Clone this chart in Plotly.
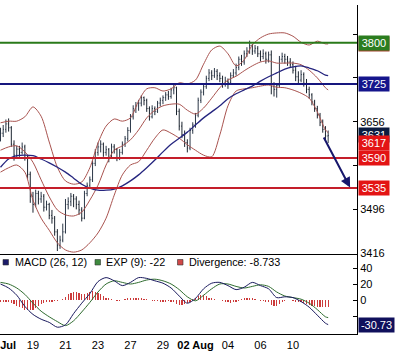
import plotly.graph_objects as go

# ---------------- data (4-hour bars, 15 Jul -> 12 Aug) ----------------
bars_per_day = 6
opens = [3628,3635,3642,3652,3645,3615,3595,3606,3600,3610,3590,3560,3520,3505,3525,3515,3520,3500,3505,3485,
         3480,3455,3430,3440,3455,3505,3510,3520,3515,3505,3495,3480,3525,3540,3550,3580,3600,3610,3615,3600,
         3605,3590,3610,3605,3590,3600,3615,3625,3640,3665,3680,3685,3690,3700,3695,3680,3665,3680,3675,3690,
         3695,3700,3705,3702,3714,3718,3675,3648,3632,3618,3608,3640,3650,3668,3695,3710,3720,3735,3745,3740,
         3748,3740,3735,3725,3730,3728,3740,3745,3755,3770,3765,3780,3785,3795,3785,3790,3780,3775,3780,3770,
         3778,3720,3715,3722,3770,3775,3770,3765,3760,3750,3738,3732,3742,3726,3715,3705,3692,3680,3668,3655,
         3642,3630]
highs = [3645,3650,3660,3662,3648,3622,3612,3612,3618,3614,3595,3565,3528,3532,3530,3528,3524,3512,3508,3495,
         3484,3460,3448,3470,3515,3518,3526,3524,3520,3512,3500,3530,3545,3556,3585,3606,3618,3622,3618,3612,
         3608,3616,3615,3608,3606,3620,3630,3646,3670,3686,3692,3696,3704,3702,3698,3684,3686,3684,3694,3700,
         3704,3710,3712,3718,3724,3720,3680,3656,3640,3624,3645,3655,3672,3700,3715,3726,3740,3752,3750,3754,
         3752,3746,3740,3738,3735,3746,3752,3762,3775,3778,3786,3792,3804,3798,3796,3794,3786,3788,3784,3784,
         3786,3728,3726,3776,3782,3780,3776,3772,3766,3758,3748,3750,3746,3734,3720,3708,3696,3685,3672,3660,
         3648,3640]
lows = [3620,3628,3636,3638,3610,3585,3590,3592,3596,3585,3552,3508,3490,3500,3505,3508,3492,3494,3478,3470,
        3448,3420,3424,3436,3452,3496,3502,3500,3496,3486,3474,3478,3520,3534,3546,3575,3594,3600,3592,3594,
        3582,3588,3598,3584,3586,3596,3610,3620,3636,3660,3672,3676,3684,3686,3674,3658,3662,3668,3672,3684,
        3688,3694,3696,3698,3706,3668,3640,3626,3610,3600,3604,3634,3645,3664,3690,3704,3716,3730,3732,3736,
        3732,3728,3718,3720,3716,3724,3736,3740,3750,3758,3760,3774,3780,3778,3780,3774,3766,3770,3762,3764,
        3706,3702,3700,3718,3764,3762,3758,3754,3744,3730,3726,3728,3720,3708,3698,3686,3674,3662,3648,3636,
        3622,3617]
closes = [3635,3642,3652,3645,3615,3595,3606,3600,3610,3590,3560,3520,3505,3525,3515,3520,3500,3505,3485,3480,
          3455,3430,3440,3455,3505,3510,3520,3515,3505,3495,3480,3525,3540,3550,3580,3600,3610,3615,3600,3605,
          3590,3610,3605,3590,3600,3615,3625,3640,3665,3680,3685,3690,3700,3695,3680,3665,3680,3675,3690,3695,
          3700,3705,3702,3714,3718,3675,3648,3632,3618,3608,3640,3650,3668,3695,3710,3720,3735,3745,3740,3748,
          3740,3735,3725,3730,3728,3740,3745,3755,3770,3765,3780,3785,3795,3785,3790,3780,3775,3780,3770,3778,
          3720,3715,3722,3770,3775,3770,3765,3760,3750,3738,3732,3742,3726,3715,3705,3692,3680,3668,3655,3642,
          3630,3631]

# indicator readings, one every 3 bars (+ last bar)
ind_bars = list(range(0, 121, 3)) + [121]
bb_upper = [3654,3657,3657,3665,3683,3666,3619,3573,3548,3542,3546,3572,3617,3648,3661,3657,3663,3694,3716,3718,
            3712,3716,3727,3725,3732,3761,3787,3794,3780,3758,3769,3796,3809,3816,3818,3818,3812,3801,3796,3803,
            3798,3798]
bb_mid = [3604,3610,3612,3601,3582,3550,3519,3495,3486,3484,3491,3513,3540,3577,3604,3612,3623,3641,3663,3677,
          3685,3688,3688,3677,3670,3681,3699,3718,3732,3739,3749,3758,3765,3767,3763,3763,3763,3760,3750,3736,
          3718,3714]
bb_lower = [3564,3572,3577,3564,3513,3480,3458,3435,3422,3418,3422,3435,3453,3480,3522,3559,3577,3583,3604,3626,
            3641,3635,3626,3614,3604,3595,3592,3632,3685,3712,3716,3718,3721,3723,3719,3718,3714,3708,3699,3674,
            3641,3636]
ma_long = [3573,3588,3594,3595,3594,3588,3581,3573,3564,3553,3542,3535,3531,3531,3533,3539,3548,3559,3572,3586,
           3601,3615,3626,3637,3650,3663,3674,3685,3698,3707,3714,3721,3730,3738,3745,3752,3756,3758,3754,3749,
           3741,3740]
macd = [20,15,6,-8,-18,-24,-28,-34,-31,-17,-4,8,23,28,24,18,22,28,27,24,
        21,15,5,-4,2,14,21,22,18,13,16,22,18,14,3,4,3,-2,-9,-19,
        -29,-30.73]
signal = [22,20,15,7,-4,-14,-21,-27,-32,-26,-15,-3,10,20,24,22,20,22,25,26,
          24,20,13,4,-1,6,14,20,20,17,15,17,19,17,10,5,3,1,-4,-12,
          -21,-22]
divergence = [-2,-2,-3,-3,
              -4,-5,-7,-9,-10,-12,-13,-13,-12,-10,
              -7,-5,-4,-3,-2,-2,-1,-1,
              0,1,
              4,7,9,10,10,9,8,
              8,9,10,11,10,9,
              7,5,3,2,1,
              0,-1,-1,0,1,
              2,3,3,3,2,2,1,
              1,0,-1,-1,-1,-2,-2,-2,-1,-2,
              -3,-5,-6,-6,-5,-4,-2,
              1,3,5,6,6,5,3,
              2,1,0,0,-1,
              -2,-3,-4,-3,-2,-1,
              1,2,3,3,2,1,0,
              -1,-1,-2,-3,
              -6,-8,-8,-5,-2,
              -1,0,0,-1,
              -2,-3,-3,-4,-5,-6,-7,-8,-9,-9,-9,-9,-8.733]

tick_days = [0, 2, 4, 6, 8, 10, 12, 14, 16, 18]
tick_labels = ["<b>15 Jul</b>", "19", "21", "23", "27", "29", "<b>02 Aug</b>", "04", "06", "10"]

level_values = [3800, 3725, 3590, 3535]
level_colors = ["#2a7a1a", "#16167e", "#c41e2a", "#c41e2a"]

price_tags = [("3798", 3798, "#a3452e"), ("3800", 3800, "#2b7d1f"), ("3725", 3725, "#15158c"),
              ("3631", 3631, "#0c1c40"), ("3617", 3617, "#e31414"), ("3590", 3590, "#e31414"),
              ("3535", 3535, "#e31414")]
macd_tag = ("-30.73", -30.73, "#10105c")

price_ticks = [3416, 3496, 3576, 3656, 3736, 3816]
price_tick_text = ["3416", "3496", "", "3656", "", ""]
macd_ticks = [-20, 0, 20, 40]
macd_tick_text = ["", "0", "20", "40"]

arrow_from = (119.1, 3630)
arrow_to = (129.1, 3536)

# ---------------- figure ----------------
n = len(closes)
bar_x = list(range(n))
band_col = "#a9534f"

fig = go.Figure()
fig.add_trace(go.Ohlc(x=bar_x, open=opens, high=highs, low=lows, close=closes,
                      increasing=dict(line=dict(color="#2c3848", width=1)),
                      decreasing=dict(line=dict(color="#1c2530", width=1)),
                      tickwidth=0.3, hoverinfo="skip", xaxis="x", yaxis="y"))
for arr, col, w in [(bb_upper, band_col, 1), (bb_lower, band_col, 1), (bb_mid, band_col, 1),
                    (ma_long, "#25257f", 1.3)]:
    fig.add_trace(go.Scatter(x=ind_bars, y=arr, mode="lines",
                             line=dict(color=col, width=w, shape="spline", smoothing=0.8),
                             hoverinfo="skip", xaxis="x", yaxis="y"))

fig.add_trace(go.Bar(x=bar_x, y=divergence, width=0.45, marker=dict(color="#cc3b3b", line=dict(width=0)),
                     hoverinfo="skip", xaxis="x2", yaxis="y2"))
fig.add_trace(go.Scatter(x=ind_bars, y=signal, mode="lines",
                         line=dict(color="#2e6b2e", width=1, shape="spline", smoothing=0.8),
                         hoverinfo="skip", xaxis="x2", yaxis="y2"))
fig.add_trace(go.Scatter(x=ind_bars, y=macd, mode="lines",
                         line=dict(color="#1a1a5e", width=1, shape="spline", smoothing=0.8),
                         hoverinfo="skip", xaxis="x2", yaxis="y2"))

shapes = []
for v, c in zip(level_values, level_colors):
    shapes.append(dict(type="line", xref="paper", x0=0, x1=1, yref="y", y0=v, y1=v,
                       line=dict(color=c, width=2), layer="above"))

annotations = []
for txt, v, c in price_tags:
    annotations.append(dict(text=txt, xref="paper", x=1, xanchor="left", xshift=1,
                            yref="y", y=v, yanchor="middle", showarrow=False,
                            width=30, height=14, borderpad=0, bgcolor=c,
                            font=dict(color="white", size=11)))
annotations.append(dict(text=macd_tag[0], xref="paper", x=1, xanchor="left", xshift=1,
                        yref="y2", y=macd_tag[1], yanchor="middle", showarrow=False,
                        width=35, height=14, borderpad=0, bgcolor=macd_tag[2],
                        font=dict(color="white", size=11)))
annotations.append(dict(text="", x=arrow_to[0], y=arrow_to[1], xref="x", yref="y",
                        ax=arrow_from[0], ay=arrow_from[1], axref="x", ayref="y",
                        showarrow=True, arrowhead=2, arrowsize=1, arrowwidth=2,
                        arrowcolor="#17176c", standoff=0))

# MACD legend (inside lower panel)
plot_w, plot_h, bottom = 357.0, 329.0, 334.0
def px(xp):
    return xp / plot_w
def py(yp):
    return (bottom - yp) / plot_h

legend_items = [("MACD (26, 12)", "#1c1c6a", 3, 12.5),
                ("EXP (9): -22", "#3f8a3f", 95, 104),
                ("Divergence: -8.733", "#d04848", 177.5, 187)]
for label, col, sx, tx in legend_items:
    shapes.append(dict(type="rect", xref="paper", yref="paper",
                       x0=px(sx), x1=px(sx + 5.5), y0=py(265), y1=py(259.5),
                       fillcolor=col, line=dict(color="#333333", width=0.6)))
    annotations.append(dict(text=label, xref="paper", yref="paper", x=px(tx), y=py(262.3),
                            xanchor="left", yanchor="middle", showarrow=False,
                            font=dict(size=10.8, color="black")))

xr = [-0.18, 131.65]
split = 80.0 / 329.0
axis_common = dict(showgrid=False, zeroline=False, showline=True, linecolor="black", linewidth=1,
                   automargin=False)

fig.update_layout(
    width=400, height=358,
    margin=dict(l=0, r=43, t=5, b=24),
    paper_bgcolor="white", plot_bgcolor="white",
    showlegend=False, bargap=0,
    font=dict(family="Liberation Sans, Arial, sans-serif", size=11, color="black"),
    xaxis=dict(domain=[0, 1], anchor="y", range=xr, showticklabels=False, ticks="",
               rangeslider=dict(visible=False), **axis_common),
    xaxis2=dict(domain=[0, 1], anchor="y2", range=xr,
                tickvals=[d * bars_per_day for d in tick_days], ticktext=tick_labels,
                ticks="", ticklabeloverflow="allow", ticklabelstandoff=1,
                tickfont=dict(size=11, color="black"), **axis_common),
    yaxis=dict(domain=[split, 1], anchor="x", side="right", range=[3414.6, 3869],
               tickvals=price_ticks, ticktext=price_tick_text, ticks="inside", ticklen=4,
               tickcolor="black", tickfont=dict(size=11, color="black"), **axis_common),
    yaxis2=dict(domain=[0, split], anchor="x2", side="right", range=[-42.5, 57.5],
                tickvals=macd_ticks, ticktext=macd_tick_text, ticks="inside", ticklen=4,
                tickcolor="black", tickfont=dict(size=11, color="black"), **axis_common),
    shapes=shapes,
    annotations=annotations,
)

fig.write_html("out.html", config={"displayModeBar": False, "staticPlot": True},
               post_script="document.body.style.margin='0';")
